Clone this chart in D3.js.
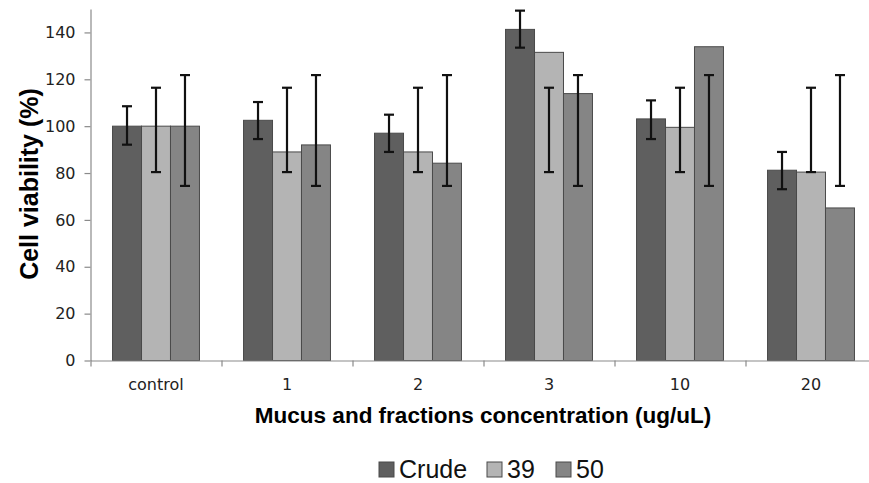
<!DOCTYPE html>
<html>
<head>
<meta charset="utf-8">
<script src="https://cdn.jsdelivr.net/npm/d3@7"></script>
<style>
  body { margin: 0; background: #fff; }
  svg { display: block; }
</style>
</head>
<body>
<svg id="chart" width="869" height="483"></svg>
<script>
// values
const categories = ['control', '1', '2', '3', '10', '20'];
const seriesNames = ['Crude', '39', '50'];
const crude = [100, 102.5, 97, 141.3, 103.1, 81.2];
const s39 = [100, 89, 89, 131.5, 99.5, 80.4];
const s50 = [100, 92, 84.2, 113.9, 133.9, 65.1];
// error bar ends (not always centred on the bar)
const crudeLow = [92.1, 94.5, 89, 133.5, 94.5, 73.1];
const crudeHigh = [108.5, 110.3, 104.9, 149.3, 111, 89];
const s39Low = [80.4, 80.4, 80.4, 80.4, 80.4, 80.4];
const s39High = [116.4, 116.4, 116.4, 116.4, 116.4, 116.4];
const s50Low = [74.5, 74.5, 74.5, 74.5, 74.5, 74.5];
const s50High = [121.8, 121.8, 121.8, 121.8, 121.8, 121.8];
const yTicks = [0, 20, 40, 60, 80, 100, 120, 140];

const colors = ['#5f5f5f', '#b4b4b4', '#858585'];
const values = [crude, s39, s50];
const lows = [crudeLow, s39Low, s50Low];
const highs = [crudeHigh, s39High, s50High];

let svg = d3.select('#chart');
svg.append('rect').attr('width', 869).attr('height', 483).attr('fill', '#fff');

let plotLeft = 90.5, plotRight = 876.5, plotTop = 9, plotBottom = 360.5;
let y = d3.scaleLinear().domain([0, 150]).range([plotBottom, plotTop]);
let x0 = d3.scaleBand().domain(categories).range([plotLeft, plotRight]);
let x1 = d3.scaleBand().domain(seriesNames).range([0, x0.bandwidth()])
    .paddingInner(0).paddingOuter(0.76);

let rows = [];
categories.forEach((c, i) => {
    seriesNames.forEach((s, k) => {
        rows.push({cat: c, s: s, k: k, v: values[k][i], lo: lows[k][i], hi: highs[k][i]});
    });
});

svg.append('g').selectAll('rect')
    .data(rows).enter().append('rect')
    .attr('x', d => x0(d.cat) + x1(d.s))
    .attr('y', d => y(d.v))
    .attr('width', x1.bandwidth())
    .attr('height', d => y(0) - y(d.v))
    .attr('fill', d => colors[d.k])
    .attr('stroke', '#4a4a4a')
    .attr('stroke-width', 1);

// error bars
let eb = svg.append('g').attr('stroke', '#111').attr('stroke-width', 2.2);
rows.forEach(d => {
    let cx = x0(d.cat) + x1(d.s) + x1.bandwidth() / 2;
    eb.append('line').attr('x1', cx).attr('x2', cx).attr('y1', y(d.lo)).attr('y2', y(d.hi));
    eb.append('line').attr('x1', cx - 5).attr('x2', cx + 5).attr('y1', y(d.lo)).attr('y2', y(d.lo));
    eb.append('line').attr('x1', cx - 5).attr('x2', cx + 5).attr('y1', y(d.hi)).attr('y2', y(d.hi));
});

// y axis
let yaxis = d3.axisLeft(y).tickValues(yTicks).tickSize(6).tickSizeOuter(0).tickPadding(9);
let gy = svg.append('g').attr('transform', 'translate(' + plotLeft + ',0)').call(yaxis);
gy.selectAll('path, line').attr('stroke', '#8a8a8a').attr('stroke-width', 1.2);
gy.selectAll('text').attr('font-family', 'DejaVu Sans').attr('font-size', 16).attr('fill', '#222');

// x axis: tick marks at category boundaries, labels in the middle
let xb = d3.scaleLinear().domain([0, categories.length]).range([plotLeft, plotRight]);
let gxb = svg.append('g').attr('transform', 'translate(0,' + plotBottom + ')')
    .call(d3.axisBottom(xb).ticks(categories.length).tickSize(6).tickSizeOuter(0).tickFormat(''));
gxb.selectAll('path, line').attr('stroke', '#8a8a8a').attr('stroke-width', 1.2);
let gx = svg.append('g').attr('transform', 'translate(0,' + plotBottom + ')')
    .call(d3.axisBottom(x0).tickSize(0).tickPadding(18));
gx.select('.domain').remove();
gx.selectAll('text').attr('font-family', 'DejaVu Sans').attr('font-size', 16).attr('fill', '#222');

// titles
svg.append('text')
    .attr('transform', 'translate(38,184) rotate(-90)')
    .attr('text-anchor', 'middle')
    .attr('font-family', 'Liberation Sans').attr('font-weight', 'bold').attr('font-size', 25)
    .text('Cell viability (%)');
svg.append('text')
    .attr('x', 483).attr('y', 423)
    .attr('text-anchor', 'middle')
    .attr('font-family', 'Liberation Sans').attr('font-weight', 'bold').attr('font-size', 22.5)
    .text('Mucus and fractions concentration (ug/uL)');

// legend
let legendX = [379, 487, 556];
let lg = svg.append('g');
seriesNames.forEach((s, k) => {
    lg.append('rect').attr('x', legendX[k]).attr('y', 462).attr('width', 15).attr('height', 15)
        .attr('fill', colors[k]).attr('stroke', '#4a4a4a').attr('stroke-width', 1);
    lg.append('text').attr('x', legendX[k] + 20).attr('y', 478)
        .attr('font-family', 'Liberation Sans').attr('font-size', 25).attr('fill', '#111')
        .text(s);
});
</script>
</body>
</html>
